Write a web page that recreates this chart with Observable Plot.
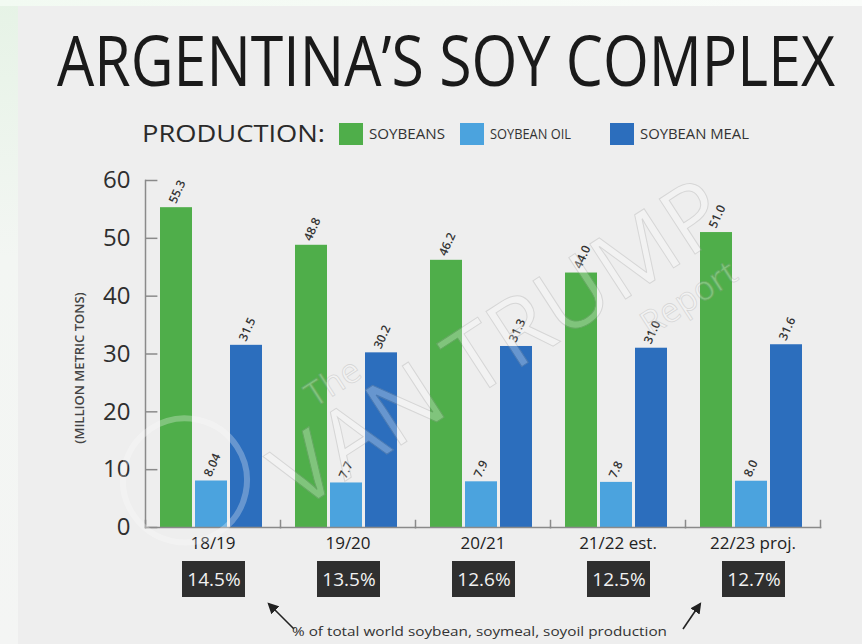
<!DOCTYPE html>
<html>
<head>
<meta charset="utf-8">
<script src="https://cdn.jsdelivr.net/npm/d3@7"></script>
<script src="https://cdn.jsdelivr.net/npm/@observablehq/plot@0.6"></script>
<style>
  html, body { margin: 0; padding: 0; background: #eeeeee; }
  #wrap { position: relative; width: 862px; height: 644px; overflow: hidden; background: #eeeeee; font-family: "Open Sans", sans-serif; }
  .abs { position: absolute; }
  #title { left: 57px; top: 17px; font-size: 70px; line-height: 84px; color: #1a1a1a; white-space: nowrap; transform-origin: 0 0; }
</style>
</head>
<body>
<div id="wrap">
  <div class="abs" style="left:0;top:0;width:18px;height:644px;background:linear-gradient(#e6f3e6,#f3f6f3 40%,#f4f5f4);"></div>
  <div class="abs" style="left:0;top:0;width:862px;height:6px;background:linear-gradient(90deg,#f2faf2,#fafcfa);"></div>
  <div class="abs" id="title"></div>
  <svg class="abs" id="legendSvg" style="left:0;top:100px" width="862" height="60"></svg>
  <div class="abs" id="main" style="left:0;top:160px"></div>
  <div class="abs" id="pct" style="left:0;top:561px"></div>
  <svg class="abs" id="noteSvg" style="left:0;top:596px" width="862" height="48"></svg>
  <svg class="abs" id="wmSvg" style="left:0;top:0;pointer-events:none" width="862" height="644"></svg>
</div>
<script>
// ---------- data ----------
const title = "ARGENTINA\u2019S SOY COMPLEX";
const legendTitle = "PRODUCTION:";
const seasons = ["18/19", "19/20", "20/21", "21/22 est.", "22/23 proj."];
const series = ["SOYBEANS", "SOYBEAN OIL", "SOYBEAN MEAL"];
const colors = ["#4fae4a", "#4ba3de", "#2c6ebd"];
const soybeans = [55.3, 48.8, 46.2, 44.0, 51.0];
const soybeanOil = [8.04, 7.7, 7.9, 7.8, 8.0];
const soybeanMeal = [31.5, 30.2, 31.3, 31.0, 31.6];
const worldShare = [14.5, 13.5, 12.6, 12.5, 12.7];
const yTicks = [0, 10, 20, 30, 40, 50, 60];
const yTitle = "(MILLION METRIC TONS)";
const note = "% of total world soybean, soymeal, soyoil production";
const watermark = ["The", "VAN TRUMP", "Report"];

// ---------- build table ----------
const valuesBySeries = [soybeans, soybeanOil, soybeanMeal];
const rows = [];
seasons.forEach((s, i) => series.forEach((k, j) => rows.push({season: s, series: k, value: valuesBySeries[j][i]})));
const pctRows = seasons.map((s, i) => ({season: s, pct: worldShare[i]}));
const fmt = v => Math.abs(Math.round(v * 10) - v * 10) < 1e-9 ? v.toFixed(1) : v.toFixed(2);

const NS = "http://www.w3.org/2000/svg";
function el(parent, tag, attrs, text) {
  const e = document.createElementNS(NS, tag);
  for (const k in attrs) e.setAttribute(k, attrs[k]);
  if (text != null) e.textContent = text;
  parent.appendChild(e);
  return e;
}

// ---------- title (scaled horizontally to the reference width) ----------
const tdiv = document.getElementById("title");
tdiv.textContent = title;
const tw = tdiv.getBoundingClientRect().width;
tdiv.style.transform = `scaleX(${778 / tw})`;

// ---------- legend ----------
const lsvg = document.getElementById("legendSvg");
el(lsvg, "text", {x: 142, y: 42, "font-family": "Open Sans", "font-size": 24, fill: "#2a2a2a",
  textLength: 183, lengthAdjust: "spacingAndGlyphs"}, legendTitle);
const swX = [339, 460, 610];
const lblLen = [76, 81, 109];
series.forEach((k, j) => {
  el(lsvg, "rect", {x: swX[j], y: 23, width: 24, height: 22, fill: colors[j]});
  el(lsvg, "text", {x: swX[j] + 30, y: 39, "font-family": "Open Sans", "font-size": 14, fill: "#333",
    textLength: lblLen[j], lengthAdjust: "spacingAndGlyphs"}, k);
});

// ---------- main chart ----------
const W = 862, H = 450, mL = 143, mR = 41, mT = 20, mB = 83;
const facetW = (W - mL - mR) / seasons.length;
const frameH = H - mT - mB;
const axisColor = "#8a8a8a";

const main = Plot.plot({
  width: W, height: H,
  marginLeft: mL, marginRight: mR, marginTop: mT, marginBottom: mB,
  style: {background: "transparent", fontFamily: "Open Sans"},
  fx: {domain: seasons, padding: 0, label: null},
  x: {domain: series, paddingInner: 0.08, paddingOuter: 0, insetLeft: 14, insetRight: 16, axis: null},
  y: {domain: [0, 60], label: null},
  color: {domain: series, range: colors},
  marks: [
    Plot.barY(rows, {fx: "season", x: "series", y: "value", fill: "series"}),
    Plot.ruleY(yTicks, {y: d => d, stroke: axisColor, strokeWidth: 1.5, insetRight: facetW - 13, facetAnchor: "left"}),
    Plot.frame({anchor: "left", stroke: axisColor, strokeWidth: 1.5, facetAnchor: "left"}),
    Plot.frame({anchor: "bottom", stroke: axisColor, strokeWidth: 1.5}),
    Plot.frame({anchor: "left", stroke: axisColor, strokeWidth: 1.5, insetTop: frameH - 7}),
    Plot.frame({anchor: "right", stroke: axisColor, strokeWidth: 1.5, insetTop: frameH - 7, facetAnchor: "right"}),
    Plot.text(rows, {fx: "season", x: "series", y: "value", text: d => fmt(d.value),
      rotate: -66, textAnchor: "start", dx: -4, dy: -5, fontSize: 12, fontWeight: 600, fill: "#333"}),
    Plot.axisY({ticks: yTicks, tickSize: 0, tickPadding: 15, fontSize: 24, color: "#2e2e2e", label: null}),
    Plot.axisFx({anchor: "bottom", tickSize: 0, tickPadding: 9, fontSize: 17, color: "#222", label: null}),
    Plot.text([yTitle], {text: d => d, frameAnchor: "left", rotate: -90, textAnchor: "middle",
      dx: -66, dy: 14, fontSize: 13, fontWeight: 600, fill: "#444", facetAnchor: "left"})
  ]
});
document.getElementById("main").appendChild(main);

// ---------- world share boxes ----------
const pct = Plot.plot({
  width: W, height: 36,
  marginLeft: mL, marginRight: mR, marginTop: 0, marginBottom: 0,
  style: {background: "transparent", fontFamily: "Open Sans"},
  x: {domain: seasons, padding: 0, axis: null},
  marks: [
    Plot.cell(pctRows, {x: "season", fill: "#2f2f2f", insetLeft: 37, insetRight: 35}),
    Plot.text(pctRows, {x: "season", text: d => d.pct.toFixed(1) + "%", fill: "#f2f2f2", fontSize: 19, dx: 1})
  ]
});
document.getElementById("pct").appendChild(pct);

// ---------- note with arrows ----------
const nsvg = document.getElementById("noteSvg");
const defs = el(nsvg, "defs", {});
const mk = el(defs, "marker", {id: "ah", viewBox: "0 0 10 10", refX: 8, refY: 5, markerWidth: 7, markerHeight: 7, orient: "auto-start-reverse"});
el(mk, "path", {d: "M0,0 L10,5 L0,10 z", fill: "#222"});
el(nsvg, "line", {x1: 294, y1: 33, x2: 269, y2: 8, stroke: "#222", "stroke-width": 1.6, "marker-end": "url(#ah)"});
el(nsvg, "line", {x1: 683, y1: 33, x2: 700, y2: 8, stroke: "#222", "stroke-width": 1.6, "marker-end": "url(#ah)"});
el(nsvg, "text", {x: 292, y: 40, "font-family": "Open Sans", "font-size": 13.5, fill: "#333",
  textLength: 375, lengthAdjust: "spacingAndGlyphs"}, note);

// ---------- faint watermark ----------
const wm = document.getElementById("wmSvg");
const g = el(wm, "g", {transform: "translate(500,345) rotate(-33)", "font-family": "Open Sans", opacity: 0.28});
el(g, "circle", {cx: -338, cy: -58, r: 62, fill: "none", stroke: "#ffffff", "stroke-width": 6});
el(g, "text", {x: -190, y: -48, "font-size": 34, fill: "#ffffff", stroke: "#9a9a9a", "stroke-width": 0.8}, watermark[0]);
el(g, "text", {x: 0, y: 30, "text-anchor": "middle", "font-size": 92, fill: "#ffffff", stroke: "#9a9a9a", "stroke-width": 1}, watermark[1]);
el(g, "text", {x: 130, y: 75, "font-size": 34, fill: "#ffffff", stroke: "#9a9a9a", "stroke-width": 0.8}, watermark[2]);
</script>
</body>
</html>
